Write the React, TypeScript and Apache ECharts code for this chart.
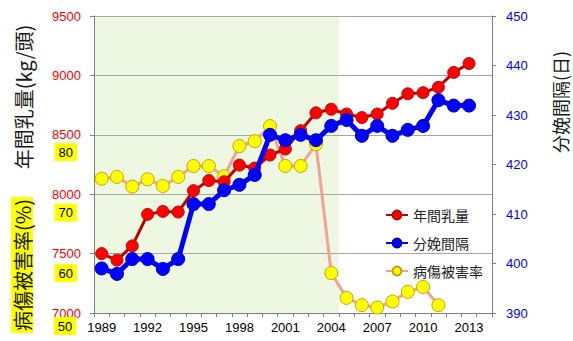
import React, { useEffect, useRef } from "react";
import * as echarts from "echarts";

// 年次（横軸カテゴリ）
const years = [
  "1989", "1990", "1991", "1992", "1993", "1994", "1995", "1996", "1997",
  "1998", "1999", "2000", "2001", "2002", "2003", "2004", "2005", "2006",
  "2007", "2008", "2009", "2010", "2011", "2012", "2013", "2014",
];

// 年間乳量 (kg/頭)
const milkYield = [
  7500, 7445, 7565, 7830, 7855, 7850, 8030, 8115, 8105, 8245, 8220, 8330,
  8380, 8535, 8685, 8715, 8675, 8645, 8675, 8765, 8845, 8855, 8900, 9025, 9100,
];

// 分娩間隔 (日)
const calvingInterval = [
  399.0, 397.9, 400.9, 400.9, 398.9, 400.9, 412.0, 412.0, 414.8, 415.9, 417.9,
  426.0, 424.9, 426.0, 424.9, 427.8, 429.0, 425.8, 427.8, 425.8, 427.0, 427.8,
  433.0, 431.9, 431.9,
];

// 病傷被害率 (%)
const diseaseRate = [
  75.6, 75.9, 74.3, 75.5, 74.4, 75.9, 77.7, 77.7, 76.0, 81.0, 81.8, 84.3,
  77.7, 77.7, 81.3, 60.0, 55.9, 54.7, 54.3, 55.3, 56.9, 57.7, 54.7,
];

const diseaseTicks = [60, 70, 80];

// 背景を塗る期間（両端の年を含む）
const shadeFrom = "1989";
const shadeTo = "2004";

const FONT = "'Liberation Sans', 'Noto Sans CJK JP', sans-serif";
const CJK = "'Noto Sans CJK JP', 'Liberation Sans', sans-serif";

export default function App() {
  const ref = useRef<HTMLDivElement>(null);

  useEffect(() => {
    if (!ref.current) return;
    const chart = echarts.init(ref.current, undefined, { renderer: "svg" });

    const option = {
      animation: false,
      backgroundColor: "#ffffff",
      textStyle: { fontFamily: FONT },
      grid: { left: 94, right: 81, top: 16, bottom: 28, containLabel: false },
      legend: {
        data: ["年間乳量", "分娩間隔", "病傷被害率"],
        orient: "vertical",
        left: 380,
        top: 203,
        itemWidth: 22,
        itemHeight: 11,
        itemGap: 14,
        textStyle: { fontFamily: CJK, fontSize: 14, color: "#222222" },
      },
      xAxis: [
        {
          type: "category",
          data: years,
          boundaryGap: true,
          axisLine: { onZero: false, lineStyle: { color: "#808080", width: 1 } },
          axisTick: { show: true, interval: 0, length: 4, lineStyle: { color: "#808080" } },
          axisLabel: { interval: 2, color: "#000000", fontSize: 13, margin: 8, fontFamily: FONT },
          splitLine: { show: false },
        },
        {
          // 背景帯の位置決め用（カテゴリの境界に合わせた数値軸）
          type: "value",
          show: false,
          min: -0.5,
          max: years.length - 0.5,
          axisLine: { show: false, onZero: false },
          splitLine: { show: false },
        },
      ],
      yAxis: [
        {
          type: "value",
          position: "left",
          min: 7000,
          max: 9500,
          interval: 500,
          axisLine: { show: true, onZero: false, lineStyle: { color: "#808080" } },
          axisTick: { show: true, length: 4, lineStyle: { color: "#808080" } },
          axisLabel: {
            color: "#ff0000",
            fontSize: 13,
            margin: 13,
            fontFamily: FONT,
            formatter: (v: number) => String(v),
          },
          splitLine: { show: true, lineStyle: { color: "#a6a6a6", width: 1 } },
        },
        {
          type: "value",
          position: "right",
          min: 390,
          max: 450,
          interval: 10,
          axisLine: { show: true, onZero: false, lineStyle: { color: "#808080" } },
          axisTick: { show: true, length: 4, lineStyle: { color: "#808080" } },
          axisLabel: { color: "#0000ff", fontSize: 13, margin: 14, fontFamily: FONT },
          splitLine: { show: false },
        },
        {
          type: "value",
          position: "left",
          min: 53.4,
          max: 102.5,
          axisLine: { show: false, onZero: false },
          axisTick: { show: false },
          splitLine: { show: false },
          axisLabel: {
            customValues: diseaseTicks,
            color: "#000000",
            fontSize: 13,
            margin: 17,
            fontFamily: FONT,
            backgroundColor: "#ffff00",
            padding: [3, 4, 2, 4],
          },
        },
      ],
      series: [
        {
          name: "背景",
          type: "line",
          xAxisIndex: 1,
          yAxisIndex: 0,
          data: [],
          silent: true,
          z: -1,
          markArea: {
            silent: true,
            z: -1,
            itemStyle: { color: "#edf7e1" },
            data: [
              [
                { xAxis: years.indexOf(shadeFrom) - 0.5 },
                { xAxis: years.indexOf(shadeTo) + 0.5 },
              ],
            ],
          },
        },
        {
          name: "病傷被害率",
          type: "line",
          yAxisIndex: 2,
          data: diseaseRate,
          symbol: "circle",
          symbolSize: 13,
          showAllSymbol: true,
          lineStyle: { color: "#f2a396", width: 3 },
          itemStyle: { color: "#ffff00", borderColor: "#c9a400", borderWidth: 1 },
          z: 2,
        },
        {
          name: "年間乳量",
          type: "line",
          yAxisIndex: 0,
          data: milkYield,
          symbol: "circle",
          symbolSize: 12,
          showAllSymbol: true,
          lineStyle: { color: "#c00000", width: 3 },
          itemStyle: { color: "#ff0000", borderColor: "#b01010", borderWidth: 1 },
          z: 3,
        },
        {
          name: "分娩間隔",
          type: "line",
          yAxisIndex: 1,
          data: calvingInterval,
          symbol: "circle",
          symbolSize: 13,
          showAllSymbol: true,
          lineStyle: { color: "#0000ff", width: 5 },
          itemStyle: { color: "#0000ff", borderColor: "#0000b0", borderWidth: 1 },
          z: 4,
        },
      ],
      graphic: [
        {
          type: "text",
          x: 23,
          y: 97,
          rotation: Math.PI / 2,
          style: {
            text: "年間乳量(kg/頭)",
            font: `20px ${CJK}`,
            fill: "#1a1a1a",
            align: "center",
            verticalAlign: "middle",
          },
        },
        {
          type: "text",
          x: 22,
          y: 265,
          rotation: Math.PI / 2,
          style: {
            text: "病傷被害率(%)",
            font: `20px ${CJK}`,
            fill: "#1a1a1a",
            align: "center",
            verticalAlign: "middle",
            backgroundColor: "#ffff00",
            padding: [1, 2, 1, 2],
          },
        },
        {
          type: "text",
          x: 560,
          y: 102,
          rotation: Math.PI / 2,
          style: {
            text: "分娩間隔(日)",
            font: `18px ${CJK}`,
            fill: "#1a1a1a",
            align: "center",
            verticalAlign: "middle",
          },
        },
        {
          type: "text",
          x: 65,
          y: 326,
          z: 10,
          style: {
            text: "50",
            font: `13px ${FONT}`,
            fill: "#000000",
            align: "center",
            verticalAlign: "middle",
            backgroundColor: "#ffff00",
            padding: [3, 4, 2, 4],
          },
        },
      ],
    };

    chart.setOption(option as any);
    return () => chart.dispose();
  }, []);

  return (
    <div
      ref={ref}
      style={{ position: "fixed", left: 0, top: 0, width: 573, height: 341 }}
    />
  );
}
